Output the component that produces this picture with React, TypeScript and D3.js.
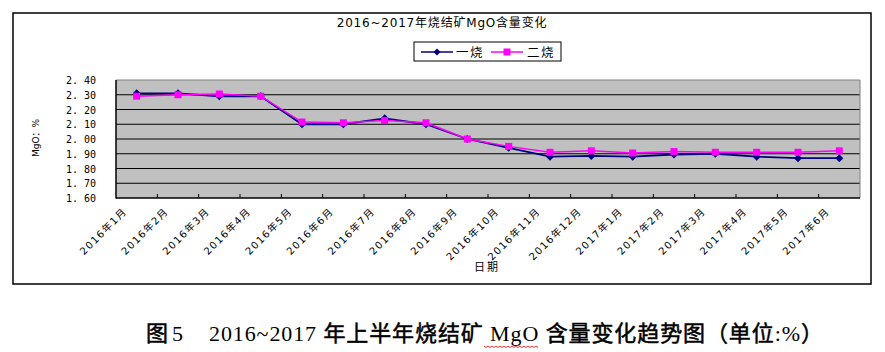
import React from 'react';
import * as d3 from 'd3';

// chart data
const months = [
  '2016年1月', '2016年2月', '2016年3月', '2016年4月', '2016年5月', '2016年6月',
  '2016年7月', '2016年8月', '2016年9月', '2016年10月', '2016年11月', '2016年12月',
  '2017年1月', '2017年2月', '2017年3月', '2017年4月', '2017年5月', '2017年6月',
];
const sinter1 = [2.31, 2.31, 2.29, 2.29, 2.10, 2.10, 2.14, 2.10, 2.00, 1.94, 1.88, 1.885, 1.88, 1.895, 1.90, 1.88, 1.87, 1.87];
const sinter2 = [2.29, 2.30, 2.305, 2.29, 2.115, 2.11, 2.125, 2.11, 2.00, 1.95, 1.91, 1.92, 1.905, 1.915, 1.91, 1.91, 1.91, 1.92];
const yTicks = [1.6, 1.7, 1.8, 1.9, 2.0, 2.1, 2.2, 2.3, 2.4];
const seriesNames = ['一烧', '二烧'];

const W = 885;
const H = 352;
const plot = { left: 116, right: 860, top: 80, bottom: 198 };
const smallFont = '"DejaVu Sans", "Noto Sans CJK SC", sans-serif';

const App = () => {
  const x = d3.scaleBand<string>().domain(months).range([plot.left, plot.right]);
  const y = d3.scaleLinear().domain([1.6, 2.4]).range([plot.bottom, plot.top]);
  const cx = (m: string) => (x(m) as number) + x.bandwidth() / 2;

  const line = d3.line<number>()
    .x((_, i) => cx(months[i]))
    .y(d => y(d));

  const diamond = (px: number, py: number, r = 4) =>
    `M${px},${py - r}L${px + r},${py}L${px},${py + r}L${px - r},${py}Z`;

  // spell-check squiggle under MgO in the caption
  const wave = d3.range(0, 56, 2).map((d, i) => [484 + d, 346 + (i % 2 ? 1.5 : 0)] as [number, number]);

  return (
    <svg width={W} height={H} style={{ position: 'absolute', left: 0, top: 0, background: '#fff' }}>
      {/* chart frame */}
      <rect x={13} y={13} width={858} height={271} fill="none" stroke="#000" strokeWidth={1.5} />

      <text x={442} y={27} textAnchor="middle" fontSize={12} letterSpacing={0.8} fontFamily={smallFont}>
        2016~2017年烧结矿MgO含量变化
      </text>

      {/* legend */}
      <rect x={414} y={42} width={147} height={19} fill="#fff" stroke="#000" strokeWidth={1} />
      <line x1={421} x2={453} y1={52} y2={52} stroke="#000080" strokeWidth={1.5} />
      <path d={diamond(437, 52, 3.5)} fill="#000080" />
      <text x={456} y={56.5} fontSize={12.5} letterSpacing={1.5} fontFamily={smallFont}>{seriesNames[0]}</text>
      <line x1={491} x2={523} y1={52} y2={52} stroke="#ff00ff" strokeWidth={1.5} />
      <rect x={503.5} y={48.5} width={7} height={7} fill="#ff00ff" />
      <text x={527} y={56.5} fontSize={12.5} letterSpacing={1.5} fontFamily={smallFont}>{seriesNames[1]}</text>

      {/* plot area */}
      <rect x={plot.left} y={plot.top} width={plot.right - plot.left} height={plot.bottom - plot.top} fill="#c0c0c0" />
      {yTicks.map(t => (
        <g key={t}>
          {t > 1.6 && t < 2.4 && (
            <line x1={plot.left} x2={plot.right} y1={y(t)} y2={y(t)} stroke="#000" strokeWidth={1} />
          )}
          <text x={96} y={y(t) + 4} textAnchor="end" fontSize={10} fontFamily='"DejaVu Sans Mono", monospace'>
            {t.toFixed(2).replace('.', '. ')}
          </text>
        </g>
      ))}
      <line x1={plot.left} x2={plot.right} y1={plot.top} y2={plot.top} stroke="#808080" />
      <line x1={plot.right} x2={plot.right} y1={plot.top} y2={plot.bottom} stroke="#808080" />
      <line x1={plot.left} x2={plot.left} y1={plot.top} y2={plot.bottom + 0.5} stroke="#000" strokeWidth={1.5} />
      <line x1={plot.left} x2={plot.right} y1={plot.bottom} y2={plot.bottom} stroke="#000" strokeWidth={1.5} />
      {months.slice(1).map(m => (
        <line key={m} x1={x(m)} x2={x(m)} y1={plot.bottom - 4} y2={plot.bottom} stroke="#000" />
      ))}

      {/* series */}
      <path d={line(sinter1) ?? ''} fill="none" stroke="#000080" strokeWidth={1.8} />
      {sinter1.map((v, i) => (
        <path key={i} d={diamond(cx(months[i]), y(v))} fill="#000080" />
      ))}
      <path d={line(sinter2) ?? ''} fill="none" stroke="#ff00ff" strokeWidth={1.5} />
      {sinter2.map((v, i) => (
        <rect key={i} x={cx(months[i]) - 3.5} y={y(v) - 3.5} width={7} height={7} fill="#ff00ff" />
      ))}

      {/* x labels */}
      {months.map(m => (
        <text key={m} transform={`translate(${cx(m) - 9},${212}) rotate(-45)`} textAnchor="end"
          fontSize={10} letterSpacing={1.4} fontFamily={smallFont}>
          {m}
        </text>
      ))}
      <text x={487} y={271} textAnchor="middle" fontSize={11} letterSpacing={2} fontFamily={smallFont}>日期</text>
      <text transform="translate(39,138) rotate(-90)" textAnchor="middle" fontSize={9} fontFamily={smallFont}>
        MgO：%
      </text>

      {/* caption */}
      <g fontFamily='"Liberation Serif", "Noto Sans CJK SC", serif' fontSize={22}>
        <text x={146} y={341} stroke="#000" strokeWidth={0.5}>图</text>
        <text x={172} y={341}>5</text>
        <text x={209} y={341} letterSpacing={0.9}>
          <tspan>2016~2017 </tspan>
          <tspan stroke="#000" strokeWidth={0.5}>年上半年烧结矿</tspan>
          <tspan> MgO </tspan>
          <tspan stroke="#000" strokeWidth={0.5}>含量变化趋势图（单位</tspan>
          <tspan>:%</tspan>
          <tspan stroke="#000" strokeWidth={0.5}>）</tspan>
        </text>
      </g>
      <path d={d3.line()(wave) ?? ''} fill="none" stroke="#e00000" strokeWidth={0.8} />
    </svg>
  );
};

export default App;
